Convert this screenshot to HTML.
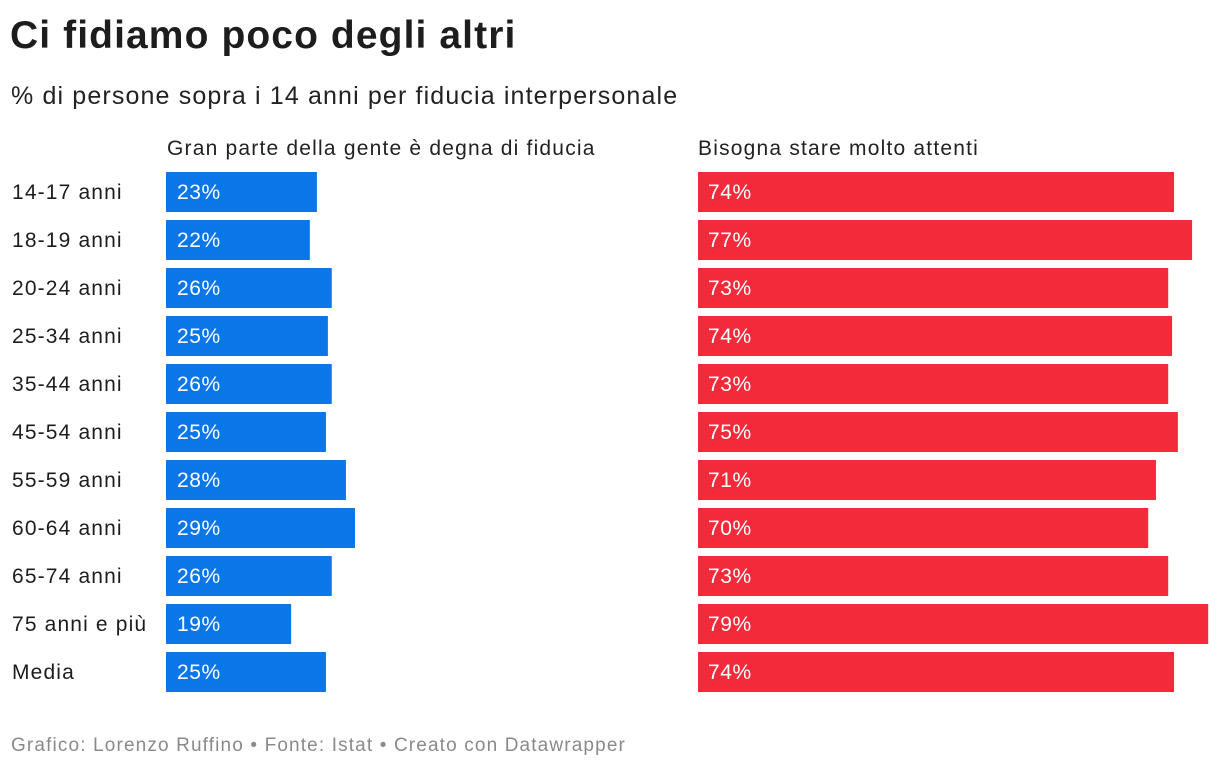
<!DOCTYPE html>
<html><head><meta charset="utf-8">
<style>
body{margin:0;width:1220px;height:768px;background:#fff;font-family:"Liberation Sans",sans-serif;color:#1d1d1d;position:relative;overflow:hidden}
.t{position:absolute;white-space:nowrap}
</style></head><body>
<div class="t" style="left:10px;top:14px;font-size:39px;font-weight:bold;letter-spacing:1.1px">Ci fidiamo poco degli altri</div>
<div class="t" style="left:11px;top:82px;font-size:25px;color:#222;letter-spacing:1.14px">% di persone sopra i 14 anni per fiducia interpersonale</div>
<div class="t" style="left:167px;top:137px;font-size:21px;color:#222;letter-spacing:1.2px">Gran parte della gente è degna di fiducia</div>
<div class="t" style="left:698px;top:137px;font-size:21px;color:#222;letter-spacing:1.2px">Bisogna stare molto attenti</div>
<svg id="chart" width="1220" height="768" style="position:absolute;left:0;top:0"></svg>
<div class="t" style="left:11px;top:735px;font-size:19px;color:#8a8a8a;letter-spacing:1.14px">Grafico: Lorenzo Ruffino • Fonte: Istat • Creato con Datawrapper</div>
<script>
const categories=["14-17 anni","18-19 anni","20-24 anni","25-34 anni","35-44 anni","45-54 anni","55-59 anni","60-64 anni","65-74 anni","75 anni e più","Media"];
const trustValues=[23.4,22.3,25.7,25.1,25.7,24.8,27.9,29.3,25.7,19.4,24.8];
const trustLabels=["23%","22%","26%","25%","26%","25%","28%","29%","26%","19%","25%"];
const carefulValues=[73.8,76.6,72.9,73.5,72.9,74.4,71.0,69.8,72.9,79.1,73.8];
const carefulLabels=["74%","77%","73%","74%","73%","75%","71%","70%","73%","79%","74%"];
const svg=document.getElementById('chart');
const NS="http://www.w3.org/2000/svg";
const scale=6.45;
const x1=v=>v*scale, x2=v=>v*scale;
const y=i=>172+i*48;
function mk(tag,attrs){const e=document.createElementNS(NS,tag);for(const k in attrs)e.setAttribute(k,attrs[k]);svg.appendChild(e);return e;}
categories.forEach((c,i)=>{
  const l=mk('text',{x:12,y:y(i)+27,'font-size':21,fill:'#1d1d1d','font-family':'Liberation Sans, sans-serif','letter-spacing':'1.15'});
  l.textContent=c;
  
  
  const b=mk('rect',{x:166,y:y(i),width:x1(trustValues[i]),height:40,fill:'#0a76e8'});
  
  
  const t=mk('text',{x:177,y:y(i)+27,'font-size':21,fill:'#fff','font-family':'Liberation Sans, sans-serif','letter-spacing':'0.6'});
  t.textContent=trustLabels[i];
  
  
  const r=mk('rect',{x:698,y:y(i),width:x2(carefulValues[i]),height:40,fill:'#f22a3a'});
  
  
  const u=mk('text',{x:708,y:y(i)+27,'font-size':21,fill:'#fff','font-family':'Liberation Sans, sans-serif','letter-spacing':'0.6'});
  u.textContent=carefulLabels[i];
  
  
});
</script>
</body></html>
